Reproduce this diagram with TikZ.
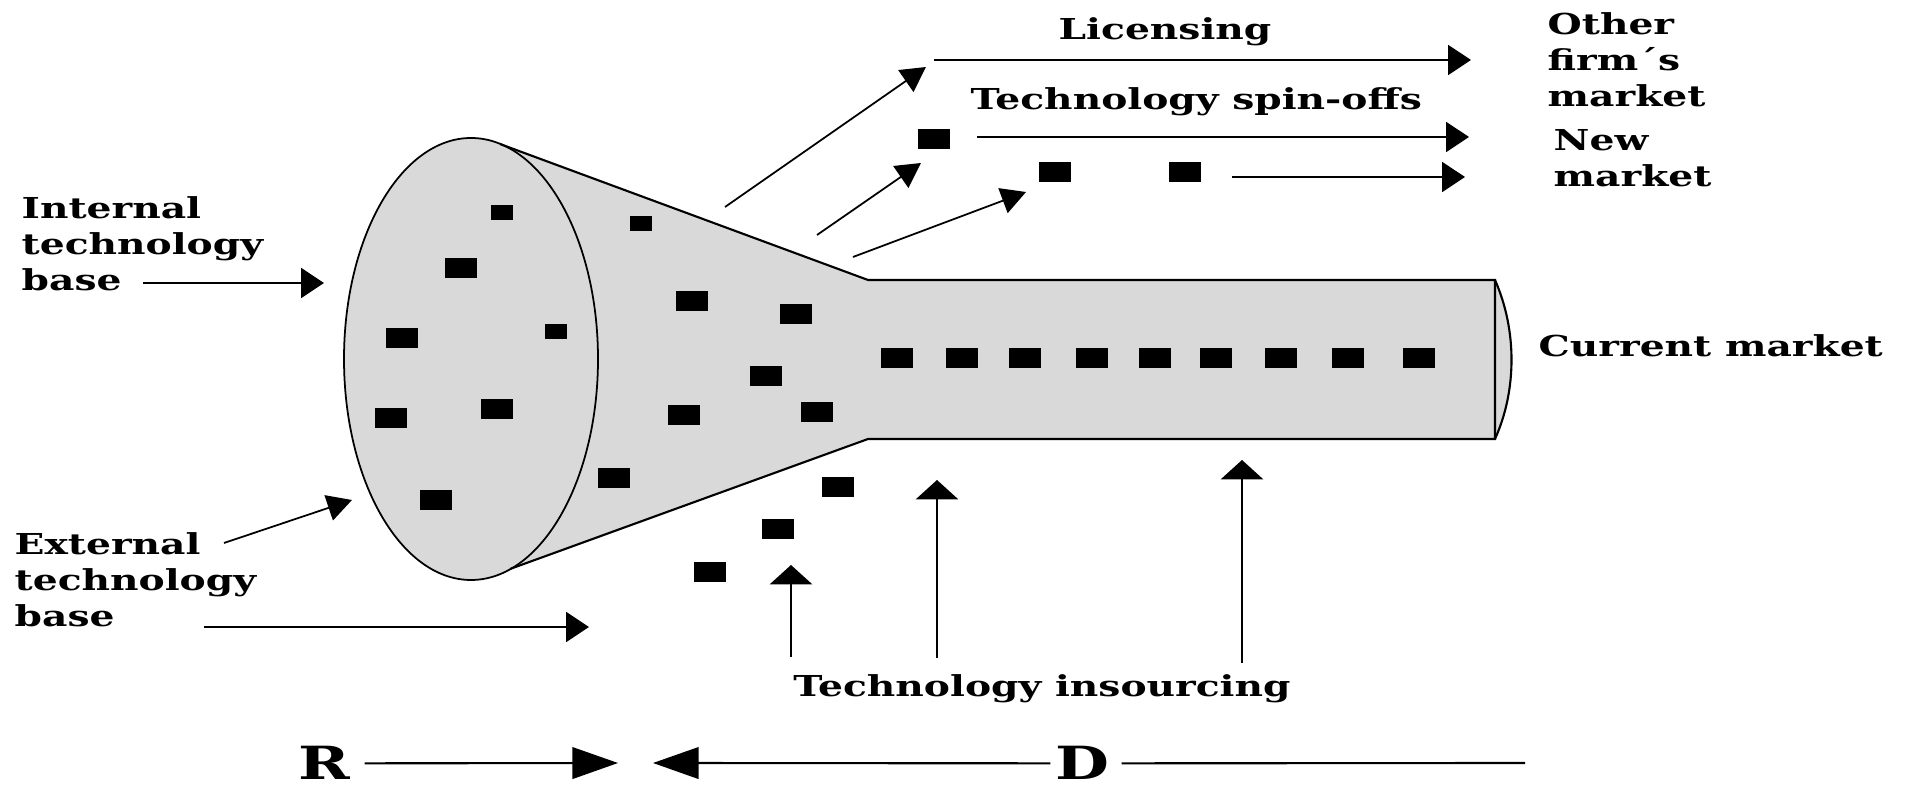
\documentclass[tikz,border=0pt]{standalone}
\usepackage{fontspec}
\usepackage{graphicx}
\setmainfont{DejaVu Serif}
\usetikzlibrary{arrows.meta}
\definecolor{conegray}{RGB}{217,217,217}
\newcommand{\widetxt}[1]{\scalebox{1.36}[1]{#1}}
\tikzset{
  lbl/.style={font=\fontsize{8.2}{10.2}\selectfont\bfseries, inner sep=0pt, align=left},
  bigl/.style={font=\fontsize{13}{15}\selectfont\bfseries, inner sep=0pt},
  sq/.style={fill=black, inner sep=0pt, minimum width=0.32cm, minimum height=0.2cm},
  sqs/.style={fill=black, inner sep=0pt, minimum width=0.22cm, minimum height=0.15cm},
  harr/.style={line width=0.6pt, -{Triangle[length=6.5pt, width=8.5pt]}},
  varr/.style={line width=0.6pt, -{Triangle[length=5.5pt, width=12pt]}},
  darr/.style={line width=0.5pt, -{Triangle[length=7pt, width=7.5pt]}},
  bigarr/.style={line width=0.6pt, -{Triangle[length=13pt, width=9pt]}}
}
\begin{document}
\begin{tikzpicture}[x=0.01cm, y=-0.01cm]
\useasboundingbox (0,0) rectangle (1909,786);
% funnel
\fill[conegray] (500,144) -- (868,280) -- (1495,280) .. controls (1517,330) and (1517,390) .. (1495,439) -- (868,439) -- (510,569) -- cycle;
\fill[conegray] (471,359) ellipse [x radius=127, y radius=221];
\draw[line width=0.6pt] (500,144) -- (868,280) -- (1495,280) -- (1495,439) -- (868,439) -- (510,569);
\draw[line width=0.6pt] (1495,280) .. controls (1517,330) and (1517,390) .. (1495,439);
\draw[line width=0.5pt] (471,359) ellipse [x radius=127, y radius=221];
% technologies
\foreach \p [count=\i] in {(461,268),(402,338),(497,409),(391,418),(436,500),(692,301),(796,314),
    (766,376),(684,415),(817,412),(614,478),(838,487),(778,529),(710,572),(934,139),(1055,172),(1185,172)}
  \node[sq] (t\i) at \p {};
\foreach \p [count=\i] in {(502,213),(556,332),(641,224)}
  \node[sqs] (u\i) at \p {};
\foreach \x [count=\i] in {897,962,1025,1092,1155,1216,1281,1348,1419}
  \node[sq] (c\i) at (\x,358) {};
% labels
\node[lbl, anchor=north west] (intl) at (21,196) {\widetxt{Internal}\\\widetxt{technology}\\\widetxt{base}};
\node[lbl, anchor=north west] (extl) at (14,532) {\widetxt{External}\\\widetxt{technology}\\\widetxt{base}};
\node[lbl, anchor=north west] (other) at (1547,12) {\widetxt{Other}\\\widetxt{firm´s}\\\widetxt{market}};
\node[lbl, anchor=north west] (newm) at (1553,129) {\widetxt{New}\\\widetxt{market}};
\node[lbl, anchor=west] (curr) at (1538,346) {\widetxt{Current market}};
\node[lbl, anchor=base] (lic) at (1165,40) {\widetxt{Licensing}};
\node[lbl, anchor=base west] (spin) at (970,110) {\widetxt{Technology spin-offs}};
\node[lbl, anchor=base] (insrc) at (1042,697) {\widetxt{Technology insourcing}};
\node[bigl, anchor=base] (R) at (324,780) {\widetxt{R}};
\node[bigl, anchor=base] (D) at (1082,780) {\widetxt{D}};
% arrow ends
\coordinate (intA) at (143,283);  \coordinate (intB) at (324,283);
\coordinate (extA) at (224,543);  \coordinate (extB) at (352,500);
\coordinate (extC) at (204,627);  \coordinate (extD) at (589,627);
\coordinate (licA) at (725,207);  \coordinate (licB) at (926,67);
\coordinate (licC) at (934,60);   \coordinate (licD) at (1471,60);
\coordinate (spA) at (817,235);   \coordinate (spB) at (921,163);
\coordinate (spC) at (977,137);   \coordinate (spD) at (1469,137);
\coordinate (nwA) at (853,257);   \coordinate (nwB) at (1026,192);
\coordinate (nwC) at (1232,177);  \coordinate (nwD) at (1465,177);
\coordinate (rtip) at (618,763);
\coordinate (dtip) at (653,763);
\coordinate (dend) at (1525,763);
\draw[harr] (intA) -- (intB);
\draw[darr] (extA) -- (extB);
\draw[harr] (extC) -- (extD);
\draw[darr] (licA) -- (licB);
\draw[harr] (licC) -- (licD);
\draw[darr] (spA) -- (spB);
\draw[harr] (spC) -- (spD);
\draw[darr] (nwA) -- (nwB);
\draw[harr] (nwC) -- (nwD);
% insourcing
\draw[varr] (791,657) -- (791,565);
\draw[varr] (937,658) -- (937,480);
\draw[varr] (1242,663) -- (1242,460);
% R and D
\draw[bigarr] ([xshift=0.14cm]R.east) -- (rtip);
\draw[bigarr] ([xshift=-0.04cm]D.west) -- (dtip);
\draw[line width=0.6pt] ([xshift=0.12cm]D.east) -- (dend);
\end{tikzpicture}
\end{document}
